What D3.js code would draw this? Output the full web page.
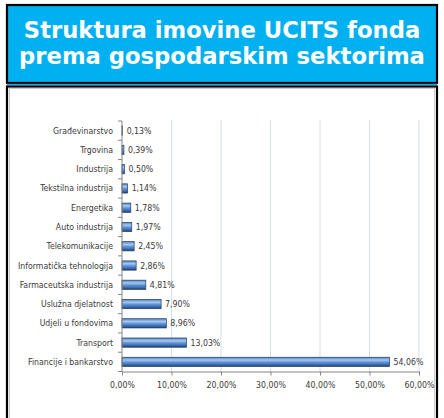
<!DOCTYPE html>
<html>
<head>
<meta charset="utf-8">
<script src="https://cdn.jsdelivr.net/npm/d3@7"></script>
<style>
  body { margin: 0; background: #fff; }
  svg { display: block; }
</style>
</head>
<body>
<div id="chart"></div>
<script>
// data
const categories = [
  "Građevinarstvo", "Trgovina", "Industrija", "Tekstilna industrija",
  "Energetika", "Auto industrija", "Telekomunikacije",
  "Informatička tehnologija", "Farmaceutska industrija",
  "Uslužna djelatnost", "Udjeli u fondovima", "Transport",
  "Financije i bankarstvo"
];
const values = [0.13, 0.39, 0.50, 1.14, 1.78, 1.97, 2.45, 2.86, 4.81, 7.90, 8.96, 13.03, 54.06];
const xTicks = [0, 10, 20, 30, 40, 50, 60];
const titleLines = ["Struktura imovine UCITS fonda", "prema gospodarskim sektorima"];

const W = 444, H = 418;
const svg = d3.select("#chart").append("svg")
    .attr("width", W)
    .attr("height", H)

const hr = d3.formatLocale({decimal: ",", thousands: ".", grouping: [3], currency: ["", ""]});
const pct = v => hr.format(".2f")(v) + "%";

// title box
svg.append("rect")
    .attr("x", 7).attr("y", 5).attr("width", 430).attr("height", 78)
    .attr("fill", "#00B0F0").attr("stroke", "#000").attr("stroke-width", 2.2);
svg.append("line")
    .attr("x1", 7).attr("x2", 437).attr("y1", 84.5).attr("y2", 84.5)
    .attr("stroke", "#00B0F0").attr("stroke-width", 1.5);

svg.selectAll("text.title")
    .data(titleLines)
    .join("text")
    .attr("class", "title")
    .attr("x", 222)
    .attr("y", (d, i) => 37.5 + i * 26)
    .attr("text-anchor", "middle")
    .attr("fill", "#fff")
    .attr("font-family", "DejaVu Sans, Verdana, sans-serif")
    .attr("font-weight", "bold")
    .attr("font-size", 22.7)
    .text(d => d);

// chart box
svg.append("rect")
    .attr("x", 7).attr("y", 86.5).attr("width", 430).attr("height", 340)
    .attr("fill", "#fff").attr("stroke", "#000").attr("stroke-width", 2.2);
svg.append("rect")
    .attr("x", 9.5).attr("y", 88.5).attr("width", 425).attr("height", 340)
    .attr("fill", "none").attr("stroke", "#bfbfbf").attr("stroke-width", 0.8);

const x = d3.scaleLinear().domain([0, 60]).range([122, 419]);
const y = d3.scaleBand().domain(categories).range([121, 371.5]).paddingInner(0.52).paddingOuter(0.26);

const lblFont = "'DejaVu Sans Condensed', 'Liberation Sans Narrow', sans-serif";
const lblSize = 8.7;

// gridlines
svg.append("g")
    .selectAll("line")
    .data(xTicks.slice(1))
    .join("line")
    .attr("x1", d => x(d)).attr("x2", d => x(d))
    .attr("y1", 120).attr("y2", 371.5)
    .attr("stroke", "#D5DFEE").attr("stroke-width", 1);

// bar gradient
const grad = svg.append("defs").append("linearGradient")
    .attr("id", "barGrad").attr("x1", 0).attr("x2", 0).attr("y1", 0).attr("y2", 1);
[[0, "#4a7fc4"], [0.3, "#a9c8ee"], [0.55, "#5d92d4"], [0.8, "#3c6cb0"], [1, "#1d3c6a"]]
    .forEach(s => grad.append("stop").attr("offset", s[0]).attr("stop-color", s[1]));

svg.append("g")
    .selectAll("rect")
    .data(values)
    .join("rect")
    .attr("x", x(0))
    .attr("y", (d, i) => y(categories[i]))
    .attr("width", d => x(d) - x(0))
    .attr("height", y.bandwidth())
    .attr("fill", "url(#barGrad)")
    .attr("stroke", "#22406b")
    .attr("stroke-width", 0.7);

// value labels
svg.append("g")
    .selectAll("text")
    .data(values)
    .join("text")
    .attr("x", d => x(d) + 4)
    .attr("y", (d, i) => y(categories[i]) + y.bandwidth() / 2)
    .attr("dy", "0.35em")
    .attr("font-family", lblFont)
    .attr("font-size", lblSize)
    .attr("fill", "#3a3a3a")
    .text(d => pct(d));

// y axis
const yAxis = svg.append("g")
    .attr("transform", `translate(${x(0)},0)`)
yAxis.append("line")
    .attr("x1", 0).attr("x2", 0).attr("y1", 121).attr("y2", 372)
    .attr("stroke", "#868686");
const bounds = d3.range(categories.length + 1).map(i => 121 + i * (250.5 / categories.length));
yAxis.selectAll("line.tk")
    .data(bounds)
    .join("line")
    .attr("class", "tk")
    .attr("x1", -4).attr("x2", 0)
    .attr("y1", d => d).attr("y2", d => d)
    .attr("stroke", "#868686");
yAxis.selectAll("text")
    .data(categories)
    .join("text")
    .attr("x", -9)
    .attr("y", d => y(d) + y.bandwidth() / 2)
    .attr("dy", "0.35em")
    .attr("text-anchor", "end")
    .attr("font-family", lblFont)
    .attr("font-size", lblSize)
    .attr("fill", "#3a3a3a")
    .text(d => d);

// x axis
const xAxis = svg.append("g")
    .attr("transform", "translate(0,371.5)")
    .call(d3.axisBottom(x).tickValues(xTicks).tickSizeInner(4).tickSizeOuter(0).tickPadding(6).tickFormat(pct));
xAxis.select(".domain").attr("stroke", "#868686");
xAxis.selectAll(".tick line").attr("stroke", "#868686");
xAxis.selectAll(".tick text")
    .attr("font-family", lblFont)
    .attr("font-size", lblSize)
    .attr("fill", "#3a3a3a");
</script>
</body>
</html>
